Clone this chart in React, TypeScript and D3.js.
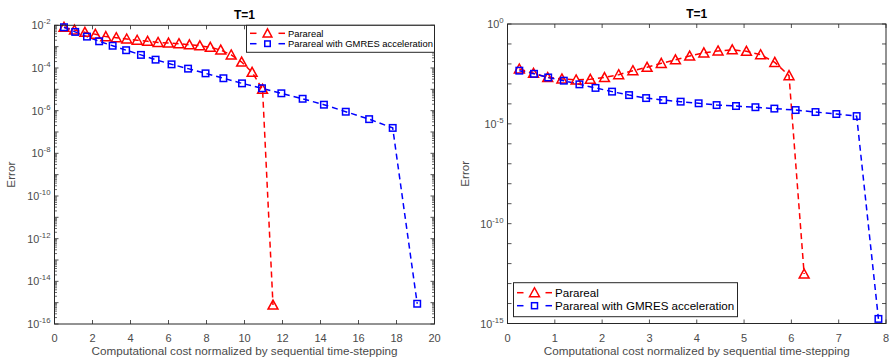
import React from 'react';
import * as d3 from 'd3';

// ---------- DATA ----------
const leftPararealX = [0.5, 1.05, 1.6, 2.15, 2.7, 3.25, 3.8, 4.35, 4.9, 5.45, 6.0, 6.55, 7.1, 7.65, 8.2, 8.75, 9.3, 9.85, 10.4, 10.95, 11.5];
const leftPararealY = [8.1e-3, 6.0e-3, 4.7e-3, 3.8e-3, 2.95e-3, 2.63e-3, 2.29e-3, 2.0e-3, 1.78e-3, 1.58e-3, 1.48e-3, 1.38e-3, 1.23e-3, 1.1e-3, 9.3e-4, 6.9e-4, 4.1e-4, 1.9e-4, 6.3e-5, 1.0e-5, 7.8e-16];
const leftGmresX = [0.5, 1.09, 1.71, 2.35, 3.06, 3.77, 4.55, 5.32, 6.16, 7.03, 7.95, 8.89, 9.87, 10.92, 11.94, 13.06, 14.18, 15.33, 16.56, 17.8, 19.09];
const leftGmresY = [8.1e-3, 4.9e-3, 2.95e-3, 1.78e-3, 1.1e-3, 6.8e-4, 4.1e-4, 2.45e-4, 1.48e-4, 9.3e-5, 5.6e-5, 3.3e-5, 1.9e-5, 1.12e-5, 6.5e-6, 3.6e-6, 1.9e-6, 8.9e-7, 4.0e-7, 1.55e-7, 8.9e-16];

const rightPararealX = [0.25, 0.55, 0.85, 1.15, 1.45, 1.75, 2.05, 2.35, 2.65, 2.95, 3.25, 3.55, 3.85, 4.15, 4.45, 4.75, 5.05, 5.35, 5.65, 5.95, 6.27];
const rightPararealY = [5.6e-3, 3.4e-3, 2.1e-3, 1.78e-3, 1.58e-3, 1.7e-3, 2.1e-3, 2.9e-3, 4.6e-3, 6.8e-3, 1.07e-2, 1.62e-2, 2.5e-2, 3.6e-2, 4.5e-2, 5.1e-2, 4.3e-2, 2.9e-2, 1.2e-2, 2.6e-3, 3.0e-13];
const rightGmresX = [0.25, 0.56, 0.86, 1.19, 1.52, 1.86, 2.21, 2.57, 2.93, 3.29, 3.66, 4.04, 4.42, 4.83, 5.24, 5.64, 6.09, 6.51, 6.95, 7.38, 7.84];
const rightGmresY = [4.6e-3, 3.2e-3, 2.1e-3, 1.45e-3, 9.5e-4, 6.3e-4, 4.1e-4, 2.75e-4, 1.95e-4, 1.55e-4, 1.29e-4, 1.07e-4, 8.7e-5, 7.8e-5, 6.8e-5, 5.8e-5, 4.9e-5, 3.9e-5, 3.1e-5, 2.45e-5, 1.7e-15];

const leftXTicks = [0, 2, 4, 6, 8, 10, 12, 14, 16, 18, 20];
const leftYExponents = [-2, -4, -6, -8, -10, -12, -14, -16];
const rightXTicks = [0, 1, 2, 3, 4, 5, 6, 7, 8];
const rightYExponents = [0, -5, -10, -15];

const seriesNames = ['Parareal', 'Parareal with GMRES acceleration'];
const titleText = 'T=1';
const xLabelText = 'Computational cost normalized by sequential time-stepping';
const yLabelText = 'Error';

// ---------- STYLE ----------
const FONT = '"Liberation Sans", Arial, Helvetica, sans-serif';
const AXIS = '#262626';
const TEXT = '#4a4a4a';
const RED = '#ff0000';
const BLUE = '#0000ff';

type Series = { xs: number[]; ys: number[]; color: string; marker: 'tri' | 'sq' };

const triPath = (s: number) => `M0,${-s * 0.55} L${s * 0.55},${s * 0.45} L${-s * 0.55},${s * 0.45} Z`;

function Marker({ kind, x, y, color, size }: { kind: 'tri' | 'sq'; x: number; y: number; color: string; size: number }) {
  if (kind === 'tri') {
    return <path d={triPath(size)} transform={`translate(${x},${y})`} fill="none" stroke={color} strokeWidth={1.5} />;
  }
  return <rect x={x - size / 2} y={y - size / 2} width={size} height={size} fill="none" stroke={color} strokeWidth={1.5} />;
}

type PanelProps = {
  x0: number; x1: number; y0: number; y1: number;
  xDomain: [number, number]; yDomain: [number, number];
  xTicks: number[]; yExps: number[];
  denseMinor: boolean;
  series: Series[];
  legend: { x: number; y: number; w: number; h: number; rowDy: number; font: number; lineX0: number; lineX1: number; textX: number; triSize: number; sqSize: number; dash: number };
  yLabelX: number;
};

function Panel(p: PanelProps) {
  const xs = d3.scaleLinear().domain(p.xDomain).range([p.x0, p.x1]);
  const ys = d3.scaleLog().domain(p.yDomain).range([p.y1, p.y0]);
  const line = d3.line<[number, number]>().x(d => xs(d[0])).y(d => ys(d[1]));
  const tl = 4;
  const lo = Math.round(Math.log10(p.yDomain[0]));
  const hi = Math.round(Math.log10(p.yDomain[1]));
  const minorVals: number[] = [];
  const decadeVals: number[] = [];
  for (let n = lo; n <= hi; n++) {
    if (!p.yExps.includes(n)) decadeVals.push(Math.pow(10, n));
    if (p.denseMinor && n < hi) for (let k = 2; k <= 9; k++) minorVals.push(k * Math.pow(10, n));
  }
  const cx = (p.x0 + p.x1) / 2;
  const L = p.legend;
  return (
    <g>
      <rect x={p.x0} y={p.y0} width={p.x1 - p.x0} height={p.y1 - p.y0} fill="white" stroke="none" />
      {p.series.map((s, i) => (
        <path key={'l' + i} d={line(s.xs.map((x, j) => [x, s.ys[j]] as [number, number])) || ''} fill="none" stroke={s.color} strokeWidth={1.5} strokeDasharray="6,4" />
      ))}
      {p.series.map((s, i) => (
        <g key={'m' + i}>
          {s.xs.map((x, j) => (
            <Marker key={j} kind={s.marker} x={xs(x)} y={ys(s.ys[j])} color={s.color} size={s.marker === 'tri' ? 9 : 6.5} />
          ))}
        </g>
      ))}
      {p.xTicks.map(t => (
        <g key={'xt' + t}>
          <line x1={xs(t)} x2={xs(t)} y1={p.y1} y2={p.y1 - tl} stroke={AXIS} strokeWidth={0.8} />
          <line x1={xs(t)} x2={xs(t)} y1={p.y0} y2={p.y0 + tl} stroke={AXIS} strokeWidth={0.8} />
          <text x={xs(t)} y={p.y1 + 18} textAnchor="middle" fontFamily={FONT} fontSize={11} fill={TEXT}>{t}</text>
        </g>
      ))}
      {p.yExps.map(e => {
        const y = ys(Math.pow(10, e));
        return (
          <g key={'yt' + e}>
            <line x1={p.x0} x2={p.x0 + tl} y1={y} y2={y} stroke={AXIS} strokeWidth={0.8} />
            <line x1={p.x1} x2={p.x1 - tl} y1={y} y2={y} stroke={AXIS} strokeWidth={0.8} />
            <text x={p.x0 - 4} y={y + 4} textAnchor="end" fontFamily={FONT} fontSize={10.8} fill={TEXT}>
              10<tspan dy={-5} fontSize={7.8}>{String(e)}</tspan>
            </text>
          </g>
        );
      })}
      {decadeVals.map((v, i) => (
        <g key={'yd' + i}>
          <line x1={p.x0} x2={p.x0 + tl} y1={ys(v)} y2={ys(v)} stroke={AXIS} strokeWidth={0.8} />
          <line x1={p.x1} x2={p.x1 - tl} y1={ys(v)} y2={ys(v)} stroke={AXIS} strokeWidth={0.8} />
        </g>
      ))}
      {minorVals.map((v, i) => (
        <g key={'ym' + i}>
          <line x1={p.x0} x2={p.x0 + 2.5} y1={ys(v)} y2={ys(v)} stroke={AXIS} strokeWidth={0.7} />
          <line x1={p.x1} x2={p.x1 - 2.5} y1={ys(v)} y2={ys(v)} stroke={AXIS} strokeWidth={0.7} />
        </g>
      ))}
      <rect x={p.x0} y={p.y0} width={p.x1 - p.x0} height={p.y1 - p.y0} fill="none" stroke={AXIS} strokeWidth={1} />
      <text x={cx} y={p.y0 - 6} textAnchor="middle" fontFamily={FONT} fontSize={12} fontWeight="bold" fill="#000">{titleText}</text>
      <text x={cx} y={p.y1 + 31} textAnchor="middle" fontFamily={FONT} fontSize={11.7} fill={TEXT}>{xLabelText}</text>
      <text transform={`translate(${p.yLabelX},${(p.y0 + p.y1) / 2}) rotate(-90)`} textAnchor="middle" fontFamily={FONT} fontSize={11.7} fill={TEXT}>{yLabelText}</text>
      <rect x={L.x} y={L.y} width={L.w} height={L.h} fill="white" stroke={AXIS} strokeWidth={1} />
      {p.series.map((s, i) => {
        const ry = L.y + L.rowDy * (i === 0 ? 1 : 2.3);
        const mid = (L.lineX0 + L.lineX1) / 2;
        return (
          <g key={'lg' + i}>
            <line x1={L.lineX0} x2={L.lineX0 + L.dash} y1={ry} y2={ry} stroke={s.color} strokeWidth={1.5} />
            <line x1={L.lineX1 - L.dash} x2={L.lineX1} y1={ry} y2={ry} stroke={s.color} strokeWidth={1.5} />
            <Marker kind={s.marker} x={mid} y={ry} color={s.color} size={s.marker === 'tri' ? L.triSize : L.sqSize} />
            <text x={L.textX} y={ry + L.font * 0.36} fontFamily={FONT} fontSize={L.font} fill="#000">{seriesNames[i]}</text>
          </g>
        );
      })}
    </g>
  );
}

export default function App() {
  const leftSeries: Series[] = [
    { xs: leftPararealX, ys: leftPararealY, color: RED, marker: 'tri' },
    { xs: leftGmresX, ys: leftGmresY, color: BLUE, marker: 'sq' },
  ];
  const rightSeries: Series[] = [
    { xs: rightPararealX, ys: rightPararealY, color: RED, marker: 'tri' },
    { xs: rightGmresX, ys: rightGmresY, color: BLUE, marker: 'sq' },
  ];
  return (
    <svg width={893} height={363} style={{ position: 'absolute', left: 0, top: 0, background: 'white' }}>
      <rect width={893} height={363} fill="white" />
      <Panel
        x0={54.5} x1={434.5} y0={25.3} y1={324}
        xDomain={[0, 20]} yDomain={[1e-16, 1e-2]}
        xTicks={leftXTicks} yExps={leftYExponents} denseMinor={true}
        series={leftSeries}
        legend={{ x: 246.5, y: 25.3, w: 188, h: 27, rowDy: 8, font: 9.4, lineX0: 250, lineX1: 285, textX: 288, triSize: 8, sqSize: 5.5, dash: 6.5 }}
        yLabelX={15}
      />
      <Panel
        x0={507.5} x1={886} y0={24} y1={323.5}
        xDomain={[0, 8]} yDomain={[1e-15, 1]}
        xTicks={rightXTicks} yExps={rightYExponents} denseMinor={false}
        series={rightSeries}
        legend={{ x: 513.5, y: 282.7, w: 224, h: 34, rowDy: 10, font: 11.6, lineX0: 517, lineX1: 552, textX: 555, triSize: 9, sqSize: 6, dash: 6.5 }}
        yLabelX={469}
      />
    </svg>
  );
}
